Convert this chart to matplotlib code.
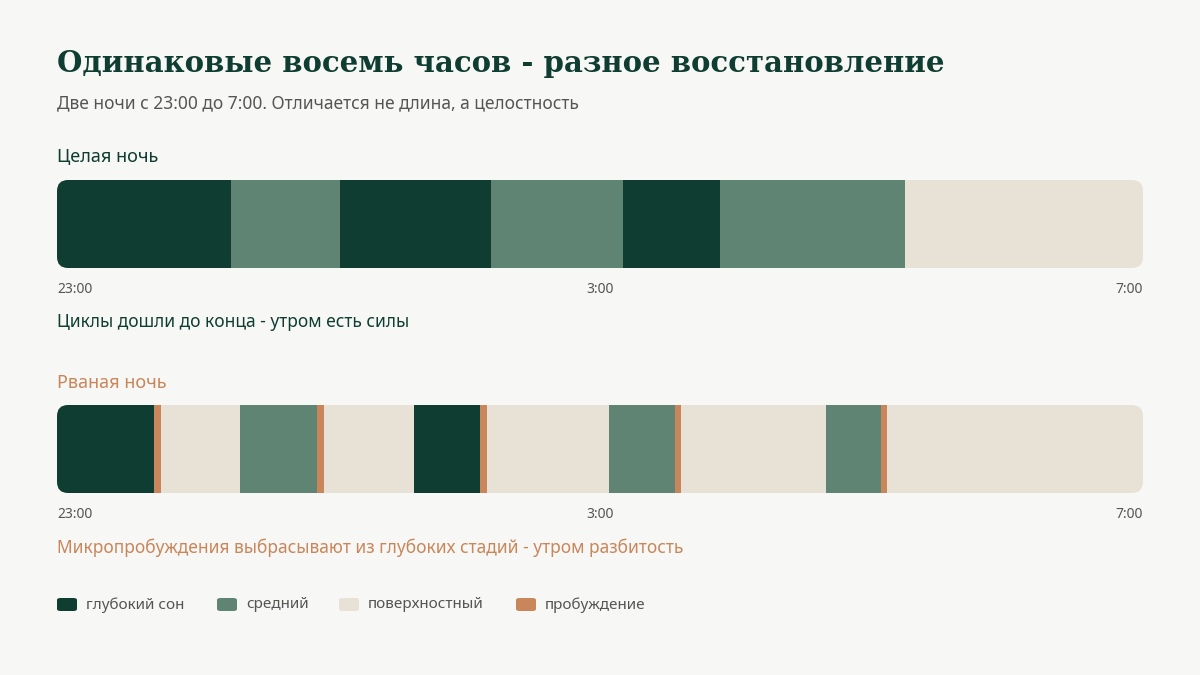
import matplotlib.pyplot as plt
from matplotlib.patches import FancyBboxPatch, Rectangle

plt.rcParams['font.family'] = ['Noto Sans', 'DejaVu Sans']

BG = '#f7f7f5'
colors = {'deep': '#0f3d31', 'mid': '#5f8473', 'light': '#e8e2d6', 'wake': '#c8865a'}

# durations in minutes, 23:00 -> 7:00
night1_stages = ['deep', 'mid', 'deep', 'mid', 'deep', 'mid', 'light']
night1_minutes = [77, 48, 67, 58, 43, 82, 105]

night2_stages = ['deep', 'wake', 'light', 'mid', 'wake', 'light', 'deep', 'wake',
                 'light', 'mid', 'wake', 'light', 'mid', 'wake', 'light']
night2_minutes = [43, 3, 35, 34, 3, 40, 29, 3, 54, 29, 3, 64, 24, 3, 114]

tick_pos = [0, 240, 480]
tick_labels = ['23:00', '3:00', '7:00']

legend_keys = ['deep', 'mid', 'light', 'wake']
legend_labels = ['глубокий сон', 'средний', 'поверхностный', 'пробуждение']

W, H = 1200, 675
fig = plt.figure(figsize=(12, 6.75), dpi=100, facecolor=BG)


def draw_night(top, stages, minutes):
    ax = fig.add_axes([57 / W, (H - top - 88) / H, 1086 / W, 88 / H])
    ax.set_xlim(0, 480)
    ax.set_ylim(0, 1)
    ax.axis('off')
    xpp = 480 / 1086  # minutes per pixel
    clip = FancyBboxPatch((0, 0), 480, 1, boxstyle='round,pad=0,rounding_size=%f' % (11 * xpp),
                          mutation_aspect=(1 / 88) / xpp, transform=ax.transData,
                          facecolor='none', edgecolor='none')
    ax.add_patch(clip)
    start = 0
    for s, m in zip(stages, minutes):
        r = Rectangle((start, 0), m, 1, facecolor=colors[s], edgecolor='none')
        ax.add_patch(r)
        r.set_clip_path(clip)
        start += m
    for p, lab in zip(tick_pos, tick_labels):
        ha = 'left' if p == 0 else ('right' if p == 480 else 'center')
        ax.text(p, -0.24, lab, ha=ha, va='center', fontsize=10, color='#555555',
                transform=ax.transData, clip_on=False)
    return ax


fig.text(57 / W, 1 - 63 / H, 'Одинаковые восемь часов - разное восстановление',
         fontsize=21, fontweight='bold', color='#0f3d31', va='center',
         family=['DejaVu Serif'])
fig.text(57 / W, 1 - 103 / H, 'Две ночи с 23:00 до 7:00. Отличается не длина, а целостность',
         fontsize=12.5, color='#555555', va='center')

fig.text(57 / W, 1 - 157 / H, 'Целая ночь', fontsize=13, fontweight='bold',
         color='#0f3d31', va='center')
draw_night(180, night1_stages, night1_minutes)
fig.text(57 / W, 1 - 322 / H, 'Циклы дошли до конца - утром есть силы', fontsize=12.5,
         fontweight='bold', color='#0f3d31', va='center')

fig.text(57 / W, 1 - 383 / H, 'Рваная ночь', fontsize=13, fontweight='bold',
         color='#c8865a', va='center')
draw_night(405, night2_stages, night2_minutes)
fig.text(57 / W, 1 - 548 / H, 'Микропробуждения выбрасывают из глубоких стадий - утром разбитость',
         fontsize=12.5, fontweight='bold', color='#c8865a', va='center')

# legend
x = 57
steps = [160, 122, 177, 150]
for k, lab, step in zip(legend_keys, legend_labels, steps):
    fig.patches.append(FancyBboxPatch((x / W, 1 - 611 / H), 20 / W, 13 / H,
                                      boxstyle='round,pad=0,rounding_size=0.003',
                                      transform=fig.transFigure, facecolor=colors[k],
                                      edgecolor='none'))
    fig.text((x + 29) / W, 1 - 605 / H, lab, fontsize=11, color='#555555', va='center')
    x += step

fig.savefig('out.png', dpi=100, facecolor=BG)
